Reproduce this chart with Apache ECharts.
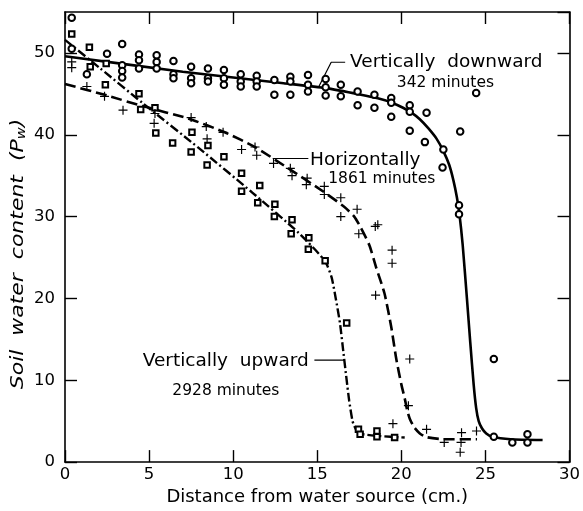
<!DOCTYPE html>
<html>
<head>
<meta charset="utf-8">
<script src="https://cdn.jsdelivr.net/npm/echarts@6/dist/echarts.min.js"></script>
<style>
html,body{margin:0;padding:0;background:#fff;}
#c{width:583px;height:511px;}
</style>
</head>
<body>
<div id="c"></div>
<script>
// ---- data ----
const xTicks = [0, 5, 10, 15, 20, 25, 30];
const yTicks = [0, 10, 20, 30, 40, 50];

// Vertically downward, 342 minutes (circles)
const downPts = [
  [0.4,54.3],[0.4,50.5],[1.3,47.4],[2.5,49.9],[3.4,51.1],[3.4,48.5],[3.4,47.8],[3.4,47.0],
  [4.4,49.8],[4.4,49.1],[4.4,48.1],[5.45,49.7],[5.45,48.9],[5.45,48.1],
  [6.45,49.0],[6.45,47.4],[6.45,46.9],[7.5,48.3],[7.5,46.9],[7.5,46.3],
  [8.5,48.1],[8.5,46.9],[8.5,46.5],[9.45,47.9],[9.45,46.9],[9.45,46.1],
  [10.45,47.4],[10.45,46.5],[10.45,45.9],[11.4,47.2],[11.4,46.5],[11.4,45.9],
  [12.45,46.7],[12.45,44.9],[13.4,47.1],[13.4,46.5],[13.4,44.9],
  [14.45,47.3],[14.45,46.1],[14.45,45.3],[15.5,46.8],[15.5,45.8],[15.5,44.8],
  [16.4,46.1],[16.4,44.7],[17.4,45.3],[17.4,43.6],[18.4,44.9],[18.4,43.3],
  [19.4,44.5],[19.4,43.9],[19.4,42.2],[20.5,43.6],[20.5,42.8],[20.5,40.5],
  [21.5,42.7],[21.4,39.1],[22.5,38.2],[22.45,36.0],[23.5,40.4],[24.45,45.1],
  [23.43,31.4],[23.43,30.3],[25.5,12.6],[25.5,3.1],[26.6,2.4],[27.5,3.4],[27.5,2.4]
];
// Vertically upward, 2928 minutes (squares)
const upPts = [
  [0.4,52.3],[1.45,50.7],[1.5,48.3],[2.45,48.7],[2.4,46.1],[4.4,45.0],[4.5,43.1],
  [5.35,43.3],[5.4,40.2],[6.4,39.0],[7.55,40.3],[7.5,37.9],[8.5,38.7],[8.45,36.3],
  [9.45,37.3],[10.5,35.3],[10.5,33.1],[11.58,33.8],[11.46,31.7],[12.48,31.5],[12.45,30.0],
  [13.5,29.6],[13.45,27.9],[14.5,27.4],[14.47,26.0],[15.47,24.6],[16.75,17.0],
  [17.45,4.0],[17.55,3.4],[18.55,3.8],[18.55,3.1],[19.6,3.0]
];
// Horizontally, 1861 minutes (plus signs)
const horizPts = [
  [0.4,48.9],[0.4,48.2],[1.3,45.9],[2.35,44.7],[3.45,43.0],[5.35,42.6],[5.3,41.4],
  [7.5,42.1],[8.4,41.0],[8.45,39.5],[9.4,40.3],[10.5,38.2],[11.3,38.5],[11.4,37.5],
  [12.4,36.5],[13.4,35.9],[13.5,35.0],[14.4,34.7],[14.35,33.9],[15.42,33.7],[15.42,32.7],
  [16.4,32.3],[16.4,30.0],[17.37,30.9],[17.47,27.9],[18.45,28.8],[18.6,29.0],
  [19.45,25.9],[19.45,24.3],[18.47,20.4],[20.5,12.6],[20.42,6.9],[19.5,4.7],[21.5,4.0],
  [22.55,2.4],[23.58,3.6],[23.55,2.4],[23.5,1.2],[24.47,3.8]
];
// fitted curves (traced)
const downCurve = [
  [0,49.6],[7,47.7],[13,46.3],[15.5,45.7],[17.6,44.9],[18.6,44.45],[19.4,43.95],[20.1,43.3],
  [20.6,42.7],[21.1,41.9],[21.6,40.8],[22.1,39.5],[22.5,38.0],[22.85,36.3],[23.1,34.4],
  [23.3,32.4],[23.45,30.4],[23.65,26.5],[23.9,20.0],[24.1,14.6],[24.3,9.5],[24.45,6.6],
  [24.6,5.0],[24.8,4.1],[25.05,3.5],[25.4,3.1],[26.5,2.8],[28.4,2.7]
];
const horizCurve = [
  [0,46.2],[2.5,44.8],[4.6,43.5],[7.3,42.0],[9.5,40.3],[11.3,38.5],[13.2,36.0],[15.4,33.0],
  [16.6,31.2],[17.2,30.0],[17.6,28.6],[18.1,26.5],[18.5,23.8],[19.0,20.6],[19.4,16.5],
  [19.7,12.6],[20.0,9.5],[20.2,7.8],[20.35,6.3],[20.5,5.3],[20.75,4.3],[21.1,3.5],
  [21.5,3.05],[22.5,2.8],[24.5,2.8]
];
const upCurve = [
  [0,51.6],[2.1,48.1],[4.6,43.9],[8,38.3],[11.1,33.0],[13.9,28.0],[15.45,24.6],[15.85,22.6],
  [16.1,20.0],[16.35,17.0],[16.55,13.5],[16.75,10.0],[16.9,7.5],[17.1,5.0],[17.3,4.0],
  [17.6,3.45],[18.6,3.2],[20.2,3.0]
];
// annotation anchors (data units)
const labels = [
  {text:'Vertically  downward', x:16.95, y:48.6, size:18.5},
  {text:'342 minutes', x:19.73, y:46.1, size:15.5},
  {text:'Horizontally', x:14.57, y:36.65, size:18.5},
  {text:'1861 minutes', x:15.65, y:34.45, size:15.5},
  {text:'Vertically  upward', x:4.62, y:12.04, size:18.5},
  {text:'2928 minutes', x:6.38, y:8.44, size:15.5}
];
const leaders = [
  [[16.66,48.86],[15.83,48.86],[15.06,45.74]],
  [[12.35,37.1],[14.47,37.1]],
  [[14.83,12.45],[16.64,12.45]]
];

const FONT = 'DejaVu Sans';
const chart = echarts.init(document.getElementById('c'), null, {renderer:'canvas'});

const axisCommon = {
  min: 0, interval: 5,
  axisLine:{show:true, onZero:false, lineStyle:{color:'#000', width:1.6}},
  axisTick:{show:true, inside:true, length:12, lineStyle:{color:'#000', width:1.4}},
  splitLine:{show:false}
};
const plusPath = 'path://M4.35,0H5.65V4.35H10V5.65H5.65V10H4.35V5.65H0V4.35H4.35Z';

const series = [
  {type:'line', data:downCurve, smooth:0.2, showSymbol:false, symbol:'none',
   lineStyle:{color:'#000', width:2.6}, z:3},
  {type:'line', data:horizCurve, smooth:0.2, showSymbol:false, symbol:'none',
   lineStyle:{color:'#000', width:2.6, type:[11,5]}, z:3},
  {type:'line', data:upCurve, smooth:0.2, showSymbol:false, symbol:'none',
   lineStyle:{color:'#000', width:2.4, type:[9,3,2,3]}, z:3},
  {type:'scatter', data:downPts, symbol:'emptyCircle', symbolSize:6.5,
   itemStyle:{color:'#000', borderColor:'#000', borderWidth:1.3, opacity:1}, z:4},
  {type:'scatter', data:upPts, symbol:'emptyRect', symbolSize:5.5,
   itemStyle:{color:'#000', borderColor:'#000', borderWidth:1.3, opacity:1}, z:4},
  {type:'scatter', data:horizPts, symbol:plusPath, symbolSize:9,
   itemStyle:{color:'#000', opacity:1}, z:4}
];
leaders.forEach(l => series.push({type:'line', data:l, symbol:'none', showSymbol:false,
  lineStyle:{color:'#000', width:1.2}, z:3}));

chart.setOption({
  animation:false,
  backgroundColor:'#fff',
  grid:{left:65, right:10, top:12, bottom:39},
  xAxis:[
    Object.assign({}, axisCommon, {type:'value', max:30, position:'bottom',
      axisLabel:{show:true, color:'#000', fontFamily:FONT, fontSize:16.5, margin:4,
        formatter: v => xTicks.indexOf(v) >= 0 ? String(v) : ''},
      name:'Distance from water source (cm.)', nameLocation:'middle', nameGap:24,
      nameTextStyle:{color:'#000', fontFamily:FONT, fontSize:18}}),
    Object.assign({}, axisCommon, {type:'value', max:30, position:'top', axisLabel:{show:false}})
  ],
  yAxis:[
    Object.assign({}, axisCommon, {type:'value', max:55, interval:10, position:'left',
      axisLabel:{show:true, color:'#000', fontFamily:FONT, fontSize:16.5, margin:10, showMaxLabel:false,
        formatter: v => yTicks.indexOf(v) >= 0 ? String(v) : ''}}),
    Object.assign({}, axisCommon, {type:'value', max:55, interval:10, position:'right', axisLabel:{show:false}})
  ],
  series: series
});

function placeText(){
  const g = [];
  labels.forEach(l => {
    const p = chart.convertToPixel({xAxisIndex:0, yAxisIndex:0}, [l.x, l.y]);
    g.push({type:'text', left:p[0], top:p[1]-l.size*0.62, z:10,
      style:{text:l.text, fill:'#000', font: l.size+'px "'+FONT+'"'}});
  });
  g.push({type:'text', x:18, y:254, rotation:Math.PI/2, scaleX:1.22, z:10,
    style:{text:'{a|Soil  water  content  (}{b|P}{s|w}{a|)}', fill:'#000', align:'center', verticalAlign:'middle',
      rich:{
        a:{fontFamily:FONT, fontSize:18, fontStyle:'italic', fill:'#000'},
        b:{fontFamily:FONT, fontSize:18, fontStyle:'italic', fill:'#000'},
        s:{fontFamily:FONT, fontSize:12, fontStyle:'italic', fill:'#000', padding:[7,0,0,0]}
      }}});
  chart.setOption({graphic:g});
}
placeText();
</script>
</body>
</html>
